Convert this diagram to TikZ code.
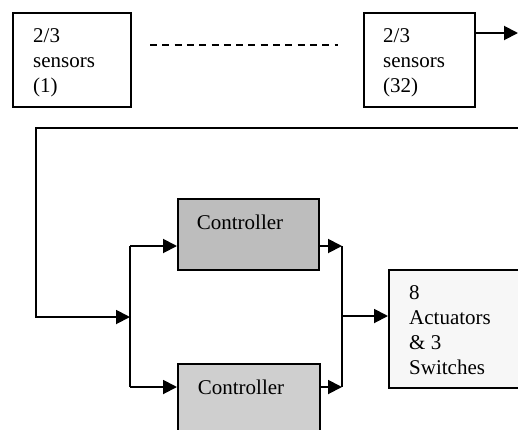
\documentclass[tikz,border=0pt]{standalone}
\usepackage{fontspec}
\setmainfont{Liberation Serif}
\usetikzlibrary{arrows.meta}
\begin{document}
\begin{tikzpicture}[x=1pt,y=-1pt,
  box/.style={draw=black,line width=1.9pt,rectangle,inner sep=0pt,anchor=north west},
  lbl/.style={anchor=west,inner sep=0pt,align=left,font=\fontsize{21}{24.8}\selectfont},
  conn/.style={line width=1.9pt,-{Triangle[length=14pt,width=14pt]}},
  wire/.style={line width=1.9pt}]
\useasboundingbox (0,0) rectangle (518,429);
% sensor boxes
\node[box,minimum width=118pt,minimum height=94pt] (s1) at (12,12) {};
\node[lbl] (s1t) at (33,62.5) {2/3\\sensors\\(1)};
\node[box,minimum width=111pt,minimum height=94pt] (s2) at (363,12) {};
\node[lbl] (s2t) at (383,62.5) {2/3\\sensors\\(32)};
\coordinate (d1) at (150,45);
\coordinate (d2) at (338,45);
\draw[line width=1.4pt,dash pattern=on 7pt off 5.3pt] (d1) -- (d2);
\coordinate (outR) at (518,33);
\draw[conn] (s2.east |- outR) -- (outR);
% controllers
\node[box,fill=black!26,minimum width=141pt,minimum height=71pt] (c1) at (177,198) {};
\node[lbl,anchor=center] (c1t) at (240,222) {Controller};
\node[box,fill=black!19,minimum width=142pt,minimum height=80pt] (c2) at (177,363) {};
\node[lbl,anchor=center] (c2t) at (241,387) {Controller};
% actuators
\node[box,fill=black!3,minimum width=140pt,minimum height=118pt] (act) at (388,269) {};
\node[lbl] (actt) at (409,330) {8\\Actuators\\\& 3\\Switches};
% feedback wiring
\coordinate (fbR) at (520,128);
\coordinate (fbL) at (36,128);
\coordinate (fbD) at (36,317);
\coordinate (j1) at (130,317);
\coordinate (j1t) at (130,246);
\coordinate (j1b) at (130,387);
\draw[conn] (fbR) -- (fbL) -- (fbD) -- (j1);
\draw[wire] (j1t) -- (j1b);
\draw[conn] (j1t) -- (c1.west |- j1t);
\draw[conn] (j1b) -- (c2.west |- j1b);
\coordinate (j2t) at (342,246);
\coordinate (j2b) at (342,387);
\coordinate (j2) at (342,316);
\draw[conn] (c1.east |- j2t) -- (j2t);
\draw[conn] (c2.east |- j2b) -- (j2b);
\draw[wire] (j2t) -- (j2b);
\draw[conn] (j2) -- (act.west |- j2);
\end{tikzpicture}
\end{document}
